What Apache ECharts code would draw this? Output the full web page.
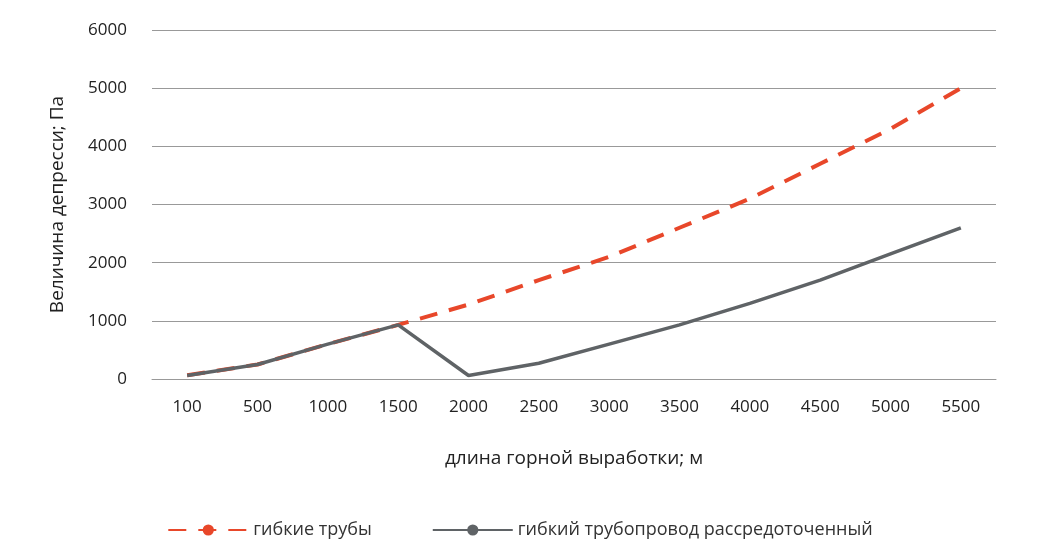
<!DOCTYPE html>
<html><head><meta charset="utf-8">
<script src="https://cdn.jsdelivr.net/npm/echarts@6/dist/echarts.min.js"></script>
<style>html,body{margin:0;padding:0;background:#fff}#c{width:1040px;height:556px}</style>
</head><body><div id="c"></div>
<script>
const categories = ['100','500','1000','1500','2000','2500','3000','3500','4000','4500','5000','5500'];
const flexPipes = [65,250,600,930,1280,1700,2100,2600,3100,3700,4300,5000];
const distributed = [60,250,600,930,60,270,600,930,1300,1700,2150,2600];
const font = 'Open Sans';
const chart = echarts.init(document.getElementById('c'));
chart.setOption({
  textStyle:{fontFamily:font},
  grid:{left:152,right:44,top:30,bottom:177},
  legend:{bottom:12,left:'center',itemGap:60,itemWidth:80,itemHeight:14,
    textStyle:{fontSize:18,color:'#333',fontFamily:font},
    data:['гибкие трубы','гибкий трубопровод рассредоточенный']},
  xAxis:{type:'category',data:categories,boundaryGap:true,
    name:'длина горной выработки; м',nameLocation:'middle',nameGap:70,
    nameTextStyle:{fontSize:19,color:'#222'},
    axisLine:{lineStyle:{color:'#999'}},axisTick:{show:false},
    axisLabel:{fontSize:17,color:'#222',margin:20}},
  yAxis:{type:'value',min:0,max:6000,interval:1000,
    name:'Величина депресси; Па',nameLocation:'middle',nameGap:85,
    nameTextStyle:{fontSize:19,color:'#222'},
    axisLabel:{fontSize:17,color:'#222',margin:25,formatter:v=>String(v)},
    splitLine:{lineStyle:{color:'#999',width:1}}},
  series:[
    {name:'гибкие трубы',type:'line',data:flexPipes,symbol:'none',z:2,
     itemStyle:{color:'#e8472a'},lineStyle:{color:'#e8472a',width:4,type:[18,12]}},
    {name:'гибкий трубопровод рассредоточенный',type:'line',data:distributed,symbol:'none',z:3,
     itemStyle:{color:'#5f6366'},lineStyle:{color:'#5f6366',width:3.5}}
  ]
});
</script></body></html>
